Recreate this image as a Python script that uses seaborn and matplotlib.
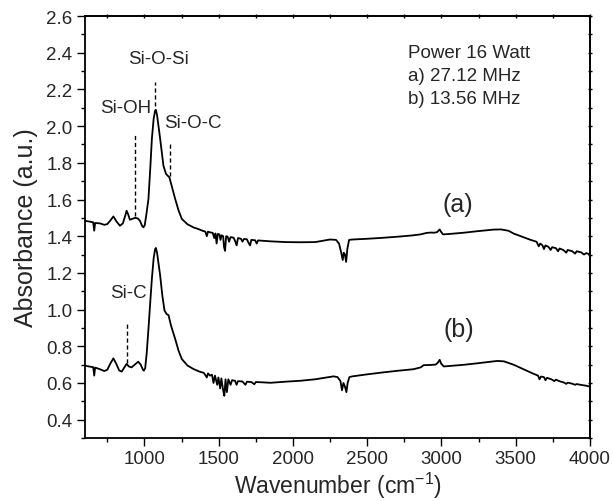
import matplotlib
matplotlib.use('Agg')
import matplotlib.pyplot as plt
from matplotlib.ticker import MultipleLocator
import seaborn as sns
import pandas as pd

# spectrum (a) 27.12 MHz
wavenumber_a = [600, 640, 655, 662, 668, 700, 730, 750, 770, 791, 812, 835, 855, 870, 880, 890, 902, 920, 938, 955,
                970, 985, 993, 1002, 1015, 1027, 1040, 1050, 1062, 1072, 1077, 1085, 1095, 1106, 1118, 1128, 1145, 1160,
                1168, 1185, 1207, 1230, 1252, 1290, 1330, 1360, 1390, 1410, 1420, 1428, 1442, 1460, 1470, 1478, 1486,
                1494, 1505, 1512, 1520, 1530, 1536, 1543, 1550, 1560, 1570, 1580, 1600, 1610, 1621, 1630, 1650, 1660,
                1670, 1690, 1700, 1711, 1720, 1745, 1756, 1765, 1800, 1850, 1950, 2050, 2150, 2250, 2290, 2310, 2325,
                2335, 2342, 2350, 2358, 2366, 2378, 2400, 2500, 2600, 2700, 2800, 2860, 2900, 2930, 2950, 2970, 2980,
                2988, 2996, 3010, 3050, 3150, 3250, 3350, 3400, 3450, 3487, 3550, 3600, 3640, 3655, 3665, 3680, 3690,
                3700, 3720, 3735, 3745, 3770, 3785, 3795, 3820, 3840, 3850, 3880, 3900, 3910, 3940, 3960, 3975, 4000]
absorbance_a = [1.484, 1.478, 1.476, 1.43, 1.472, 1.470, 1.462, 1.466, 1.485, 1.508, 1.48, 1.457, 1.47, 1.51, 1.539,
                1.52, 1.49, 1.495, 1.50, 1.497, 1.484, 1.455, 1.448, 1.46, 1.53, 1.603, 1.78, 1.93, 2.04, 2.085, 2.089,
                2.06, 2.0, 1.93, 1.85, 1.784, 1.74, 1.727, 1.721, 1.67, 1.603, 1.54, 1.494, 1.465, 1.448, 1.44, 1.43,
                1.425, 1.40, 1.425, 1.421, 1.418, 1.39, 1.415, 1.36, 1.412, 1.41, 1.38, 1.405, 1.40, 1.34, 1.32, 1.40,
                1.398, 1.37, 1.395, 1.392, 1.375, 1.35, 1.39, 1.386, 1.37, 1.385, 1.383, 1.365, 1.35, 1.38, 1.378,
                1.36, 1.377, 1.375, 1.372, 1.368, 1.367, 1.368, 1.382, 1.38, 1.36, 1.31, 1.27, 1.31, 1.30, 1.26, 1.33,
                1.38, 1.382, 1.386, 1.391, 1.397, 1.404, 1.41, 1.418, 1.42, 1.419, 1.422, 1.43, 1.437, 1.425, 1.41,
                1.412, 1.419, 1.428, 1.436, 1.437, 1.43, 1.414, 1.395, 1.38, 1.37, 1.345, 1.36, 1.35, 1.33, 1.35,
                1.342, 1.325, 1.34, 1.335, 1.318, 1.333, 1.325, 1.31, 1.325, 1.318, 1.305, 1.318, 1.312, 1.30, 1.308,
                1.30]

# spectrum (b) 13.56 MHz
wavenumber_b = [600, 640, 655, 662, 668, 700, 730, 750, 770, 791, 810, 830, 847, 865, 880, 895, 913, 935, 958, 975,
                990, 996, 1005, 1015, 1027, 1040, 1050, 1062, 1072, 1077, 1085, 1095, 1106, 1120, 1135, 1150, 1162,
                1180, 1207, 1230, 1252, 1290, 1330, 1370, 1400, 1420, 1428, 1442, 1455, 1465, 1475, 1490, 1498, 1510,
                1518, 1530, 1538, 1546, 1555, 1565, 1580, 1590, 1610, 1620, 1630, 1660, 1680, 1690, 1720, 1740, 1750,
                1780, 1850, 1950, 2050, 2150, 2273, 2300, 2320, 2330, 2340, 2350, 2360, 2368, 2380, 2400, 2500, 2600,
                2700, 2812, 2860, 2880, 2920, 2960, 2975, 2988, 2998, 3015, 3060, 3150, 3250, 3374, 3420, 3487, 3560,
                3620, 3650, 3660, 3670, 3690, 3700, 3710, 3740, 3760, 3770, 3800, 3823, 3840, 3850, 3880, 3900, 3910,
                3950, 3975, 4000]
absorbance_b = [0.694, 0.688, 0.686, 0.64, 0.684, 0.675, 0.665, 0.672, 0.705, 0.734, 0.705, 0.668, 0.662, 0.685,
                0.704, 0.69, 0.685, 0.70, 0.716, 0.70, 0.672, 0.667, 0.68, 0.76, 0.894, 1.05, 1.167, 1.28, 1.33,
                1.336, 1.31, 1.25, 1.185, 1.08, 0.995, 0.975, 0.97, 0.91, 0.84, 0.775, 0.73, 0.695, 0.676, 0.662,
                0.655, 0.63, 0.652, 0.64, 0.645, 0.60, 0.64, 0.59, 0.63, 0.57, 0.625, 0.56, 0.53, 0.62, 0.55, 0.62,
                0.59, 0.615, 0.612, 0.59, 0.61, 0.608, 0.59, 0.607, 0.605, 0.593, 0.605, 0.604, 0.601, 0.607, 0.612,
                0.62, 0.636, 0.632, 0.61, 0.56, 0.60, 0.58, 0.55, 0.60, 0.632, 0.636, 0.647, 0.657, 0.666, 0.675,
                0.685, 0.697, 0.698, 0.700, 0.710, 0.726, 0.705, 0.69, 0.693, 0.699, 0.708, 0.72, 0.718, 0.699,
                0.672, 0.65, 0.64, 0.62, 0.635, 0.632, 0.615, 0.628, 0.62, 0.61, 0.618, 0.608, 0.603, 0.595, 0.602,
                0.596, 0.59, 0.594, 0.588, 0.585, 0.58]

# band labels: name, marker position, dashed line start/end, text position
band_names = ['Si-OH', 'Si-O-Si', 'Si-O-C', 'Si-C']
band_pos = [938, 1072, 1172, 885]
band_line_lo = [1.51, 2.11, 1.73, 0.71]
band_line_hi = [1.96, 2.24, 1.91, 0.92]
band_text_x = [874, 1092, 1328, 890]
band_text_y = [2.10, 2.37, 2.02, 1.095]

info_lines = ['Power 16 Watt', 'a) 27.12 MHz', 'b) 13.56 MHz']

sns.set_style('ticks')
plt.rcParams['font.family'] = ['Liberation Sans', 'DejaVu Sans']
plt.rcParams['mathtext.fontset'] = 'custom'
plt.rcParams['mathtext.rm'] = 'Liberation Sans'

df_a = pd.DataFrame({'wavenumber': wavenumber_a, 'absorbance': absorbance_a})
df_b = pd.DataFrame({'wavenumber': wavenumber_b, 'absorbance': absorbance_b})

fig, ax = plt.subplots(figsize=(6.13, 5.02), dpi=100)
fig.subplots_adjust(left=0.1387, right=0.9625, bottom=0.1255, top=0.966)

sns.lineplot(data=df_a, x='wavenumber', y='absorbance', color='k', lw=1.3, estimator=None, ax=ax)
sns.lineplot(data=df_b, x='wavenumber', y='absorbance', color='k', lw=1.3, estimator=None, ax=ax)

# dashed markers for the bands
for name, xp, lo, hi, tx, ty in zip(band_names, band_pos, band_line_lo, band_line_hi, band_text_x, band_text_y):
    ax.plot([xp, xp], [lo, hi], color='k', ls=(0, (3, 2)), lw=1.0)
    ax.text(tx, ty, name, ha='center', va='center', fontsize=13.5)

ax.text(3112, 1.575, '(a)', ha='center', va='center', fontsize=18)
ax.text(3118, 0.894, '(b)', ha='center', va='center', fontsize=18)
for i, line in enumerate(info_lines):
    ax.text(2775, 2.40 - i * 0.125, line, ha='left', va='center', fontsize=13.5)

ax.set_xlim(600, 4000)
ax.set_ylim(0.3, 2.6)
ax.set_xticks([1000, 1500, 2000, 2500, 3000, 3500, 4000])
ax.set_yticks([0.4, 0.6, 0.8, 1.0, 1.2, 1.4, 1.6, 1.8, 2.0, 2.2, 2.4, 2.6])
ax.xaxis.set_minor_locator(MultipleLocator(250))
ax.yaxis.set_minor_locator(MultipleLocator(0.1))
ax.tick_params(which='major', direction='out', length=6, width=1.0, labelsize=13.5, pad=3, color='k')
ax.tick_params(which='minor', direction='out', length=3, width=1.0, color='k')
for spine in ax.spines.values():
    spine.set_linewidth(1.3)
    spine.set_color('k')

# small ticks on the top and right frame, no labels
sec_x = ax.secondary_xaxis('top')
sec_x.set_xticks([1000, 1500, 2000, 2500, 3000, 3500, 4000])
sec_x.xaxis.set_minor_locator(MultipleLocator(250))
sec_x.tick_params(which='both', direction='inout', length=3, width=1.0, labeltop=False, color='k')
sec_y = ax.secondary_yaxis('right')
sec_y.set_yticks([0.4, 0.6, 0.8, 1.0, 1.2, 1.4, 1.6, 1.8, 2.0, 2.2, 2.4, 2.6])
sec_y.yaxis.set_minor_locator(MultipleLocator(0.1))
sec_y.tick_params(which='both', direction='inout', length=3, width=1.0, labelright=False, color='k')
for sec in (sec_x, sec_y):
    for spine in sec.spines.values():
        spine.set_linewidth(1.3)

ax.set_xlabel('Wavenumber (cm$^{-1}$)', fontsize=16.5, labelpad=2)
ax.set_ylabel('Absorbance (a.u.)', fontsize=18, labelpad=6)

fig.savefig('out.png', dpi=100)
plt.close(fig)
